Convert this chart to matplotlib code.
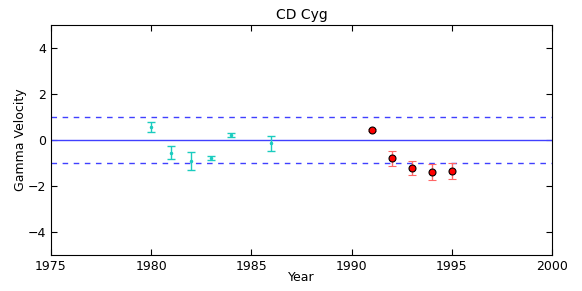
import matplotlib
matplotlib.use("Agg")
import matplotlib.pyplot as plt

years_a = [1980, 1981, 1982, 1983, 1984, 1986]
vel_a = [0.55, -0.55, -0.9, -0.8, 0.2, -0.15]
err_a = [0.22, 0.29, 0.4, 0.09, 0.09, 0.32]

years_b = [1991, 1992, 1993, 1994, 1995]
vel_b = [0.45, -0.8, -1.22, -1.38, -1.35]
err_b = [0.05, 0.31, 0.3, 0.35, 0.35]

fig = plt.figure(figsize=(5.82, 2.91), dpi=100)
ax = fig.add_axes([51/582, 36/291, 501/582, 230/291])

ax.axhline(0, color=(0.25, 0.25, 1.0), lw=1.0)
ax.axhline(1, color=(0.25, 0.25, 1.0), lw=1.0, ls=(0, (4, 4)))
ax.axhline(-1, color=(0.25, 0.25, 1.0), lw=1.0, ls=(0, (4, 4)))

ax.errorbar(years_a, vel_a, yerr=err_a, fmt='.', color=(0.1, 0.8, 0.75),
            ecolor=(0.1, 0.8, 0.75), ms=3, capsize=3, elinewidth=1, capthick=1)
ax.errorbar(years_b, vel_b, yerr=err_b, fmt='o', color='red', mec='black',
            ms=5, mew=0.8, ecolor=(1.0, 0.4, 0.4), capsize=3, elinewidth=1, capthick=1)

ax.set_xlim(1975, 2000)
ax.set_ylim(-5, 5)
ax.set_xticks([1975, 1980, 1985, 1990, 1995, 2000])
ax.set_yticks([-4, -2, 0, 2, 4])
ax.tick_params(direction='in', top=True, right=True, length=4, labelsize=9)
ax.set_title("CD Cyg", fontsize=10, pad=4)
ax.set_xlabel("Year", fontsize=9, labelpad=-1)
ax.set_ylabel("Gamma Velocity", fontsize=9, labelpad=0.5)

fig.savefig("out.png", dpi=100)
